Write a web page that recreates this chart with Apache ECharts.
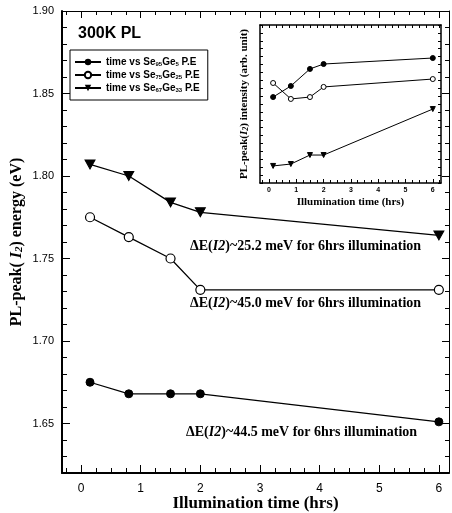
<!DOCTYPE html>
<html><head><meta charset="utf-8">
<script src="https://cdn.jsdelivr.net/npm/echarts@6/dist/echarts.min.js"></script>
<style>html,body{margin:0;padding:0;background:#fff}#c{width:452px;height:513px}</style>
</head><body><div id="c"></div>
<script>
// ---- data ----
var times = [0.15, 0.8, 1.5, 2, 6];
var se95ge5 = [1.675, 1.668, 1.668, 1.668, 1.651];
var se75ge25 = [1.775, 1.763, 1.750, 1.731, 1.731];
var se67ge33 = [1.807, 1.800, 1.784, 1.778, 1.764];
var insetSe95ge5 = [54.4, 61.4, 72.2, 75.3, 79.1];
var insetSe75ge25 = [63.3, 53.2, 54.4, 60.8, 65.8];
var insetSe67ge33 = [10.8, 12.0, 17.7, 17.7, 46.8];
var xTicks = [0, 1, 2, 3, 4, 5, 6];
var yTicks = [1.65, 1.70, 1.75, 1.80, 1.85, 1.90];
var seriesNames = ['s95', 's75', 's67'];

function pairs(xs, ys){ return xs.map(function(x,i){ return [x, ys[i]]; }); }
function steps(a, b, s, skip){ var r=[]; for (var i=0;;i++){ var v=+(a+i*s).toFixed(4); if(v>b+1e-9)break; if(!skip||Math.abs(v-Math.round(v/skip)*skip)>1e-6) r.push(v);} return r; }

var serif = 'Liberation Serif';
var sans = 'Liberation Sans';
var BLK = '#000';

function axisBase(extra){
  var o = {
    type:'value', splitLine:{show:false}, offset:0,
    axisLine:{show:true, onZero:false, lineStyle:{color:BLK, width:1}},
    axisTick:{show:true, inside:true, length:7, lineStyle:{color:BLK}},
    axisLabel:{show:false}
  };
  for (var k in extra) o[k]=extra[k];
  return o;
}
function tickAxis(grid, pos, min, max, vals, len){
  return axisBase({gridIndex:grid, position:pos, min:min, max:max,
    axisLine:{show:true, onZero:false, lineStyle:{color:'rgba(0,0,0,0)', width:0.01}},
    axisTick:{show:true, inside:true, length:len, customValues:vals, lineStyle:{color:BLK, width:1}}});
}

var xMin=-0.32, xMax=6.17, yMin=1.62, yMax=1.90;
var ixMin=-0.33, ixMax=6.3;
var xMinor = steps(-0.25,6.1,0.25,1);
var yMinor = steps(1.62,1.9,0.01).filter(function(v){return Math.abs(v*20-Math.round(v*20))>1e-6;});
var mainRect = {left:62, top:11, right:3, bottom:40, outerBoundsMode:'none', containLabel:false};
var insetRect = {left:260, top:25, width:181, height:158, outerBoundsMode:'none', containLabel:false};
function copy(o){ var r={}; for (var k in o) r[k]=o[k]; return r; }

var option = {
  animation:false,
  backgroundColor:'#fff',
  grid:[ copy(mainRect), copy(insetRect), copy(mainRect), copy(insetRect) ],
  xAxis:[
    axisBase({gridIndex:0, position:'bottom', min:xMin, max:xMax,
      axisLine:{show:true,onZero:false,lineStyle:{color:BLK,width:2}},
      axisTick:{show:true,inside:true,length:8,customValues:xTicks,lineStyle:{color:BLK}},
      axisLabel:{show:true,customValues:xTicks,color:BLK,fontFamily:sans,fontSize:12,margin:10},
      name:'Illumination time (hrs)', nameLocation:'middle', nameGap:22, nameMoveOverlap:false,
      nameTextStyle:{fontFamily:serif,fontWeight:'bold',fontSize:17,color:BLK}}),
    axisBase({gridIndex:0, position:'top', min:xMin, max:xMax,
      axisTick:{show:true,inside:true,length:7,customValues:xTicks,lineStyle:{color:BLK}}}),
    axisBase({gridIndex:1, position:'bottom', min:ixMin, max:ixMax,
      axisLine:{show:true,onZero:false,lineStyle:{color:BLK,width:1.5}},
      axisTick:{show:true,inside:true,length:4,customValues:xTicks,lineStyle:{color:BLK}},
      axisLabel:{show:true,customValues:xTicks,color:BLK,fontFamily:sans,fontWeight:'bold',fontSize:7,margin:4},
      name:'Illumination time (hrs)', nameLocation:'middle', nameGap:14, nameMoveOverlap:false,
      nameTextStyle:{fontFamily:serif,fontWeight:'bold',fontSize:11,color:BLK}}),
    axisBase({gridIndex:1, position:'top', min:ixMin, max:ixMax,
      axisLine:{show:true,onZero:false,lineStyle:{color:BLK,width:1.5}},
      axisTick:{show:true,inside:true,length:3,customValues:steps(-0.25,6.25,0.25),lineStyle:{color:BLK}}}),
    tickAxis(2,'bottom',xMin,xMax,xMinor,5),
    tickAxis(2,'top',xMin,xMax,xMinor,4),
    tickAxis(3,'bottom',ixMin,ixMax,steps(-0.25,6.25,0.25,1),3)
  ],
  yAxis:[
    axisBase({gridIndex:0, position:'left', min:yMin, max:yMax,
      axisLine:{show:true,onZero:false,lineStyle:{color:BLK,width:2}},
      axisTick:{show:true,inside:true,length:8,customValues:yTicks,lineStyle:{color:BLK}},
      axisLabel:{show:true,customValues:yTicks,color:BLK,fontFamily:sans,fontSize:11,margin:8,
        formatter:function(v){return v.toFixed(2);}},
      name:'{b|PL-peak( }{i|I}{s|2}{b|) energy (eV)}', nameLocation:'middle', nameGap:37, nameRotate:90, nameMoveOverlap:false,
      nameTextStyle:{color:BLK, rich:{
        b:{fontFamily:serif,fontWeight:'bold',fontSize:16,color:BLK},
        i:{fontFamily:serif,fontWeight:'bold',fontStyle:'italic',fontSize:16,color:BLK},
        s:{fontFamily:serif,fontWeight:'bold',fontStyle:'italic',fontSize:11,color:BLK,padding:[6,0,0,0]}}}}),
    axisBase({gridIndex:0, position:'right', min:yMin, max:yMax,
      axisTick:{show:true,inside:true,length:7,customValues:yTicks,lineStyle:{color:BLK}}}),
    axisBase({gridIndex:1, position:'left', min:0, max:100,
      axisLine:{show:true,onZero:false,lineStyle:{color:BLK,width:1.5}},
      axisTick:{show:true,inside:true,length:3,customValues:steps(0,100,5),lineStyle:{color:BLK}},
      name:'{b|PL-peak(}{i|I}{s|2}{b|) intensity (arb. unit)}', nameLocation:'middle', nameGap:10, nameRotate:90, nameMoveOverlap:false,
      nameTextStyle:{color:BLK, rich:{
        b:{fontFamily:serif,fontWeight:'bold',fontSize:11,color:BLK},
        i:{fontFamily:serif,fontWeight:'bold',fontStyle:'italic',fontSize:11,color:BLK},
        s:{fontFamily:serif,fontWeight:'bold',fontStyle:'italic',fontSize:8,color:BLK,padding:[4,0,0,0]}}}}),
    axisBase({gridIndex:1, position:'right', min:0, max:100,
      axisLine:{show:true,onZero:false,lineStyle:{color:BLK,width:1.5}},
      axisTick:{show:true,inside:true,length:3,customValues:steps(0,100,5),lineStyle:{color:BLK}}}),
    tickAxis(2,'left',yMin,yMax,yMinor,5),
    tickAxis(2,'right',yMin,yMax,yMinor,4),
    axisBase({gridIndex:3, min:0, max:100, show:false})
  ],
  legend:{
    left:70, top:50, orient:'vertical', data:seriesNames,
    padding:[7,8,7,4], itemGap:3, itemWidth:26, itemHeight:8,
    borderColor:BLK, borderWidth:1, backgroundColor:'#fff',
    textStyle:{color:BLK, rich:{
      a:{fontFamily:sans,fontWeight:'bold',fontSize:10,color:BLK},
      s:{fontFamily:sans,fontWeight:'bold',fontSize:6,color:BLK,padding:[4,0,0,0]}}},
    formatter:function(n){
      var m={s95:['95','5'],s75:['75','25'],s67:['67','33']}[n];
      return '{a|time vs Se}{s|'+m[0]+'}{a|Ge}{s|'+m[1]+'}{a| P.E}';
    }
  },
  graphic:[
    {type:'text', left:78, top:26, style:{text:'300K PL', font:'bold 16px "Liberation Sans"', fill:BLK}},
    {type:'text', left:190, top:239, style:{text:'{b|ΔE(}{i|I2}{b|)~25.2 meV for 6hrs illumination}',
      rich:{b:{font:'bold 14px "Liberation Serif"',fill:BLK},i:{font:'italic bold 14px "Liberation Serif"',fill:BLK}}}},
    {type:'text', left:190, top:296, style:{text:'{b|ΔE(}{i|I2}{b|)~45.0 meV for 6hrs illumination}',
      rich:{b:{font:'bold 14px "Liberation Serif"',fill:BLK},i:{font:'italic bold 14px "Liberation Serif"',fill:BLK}}}},
    {type:'text', left:186, top:425, style:{text:'{b|ΔE(}{i|I2}{b|)~44.5 meV for 6hrs illumination}',
      rich:{b:{font:'bold 14px "Liberation Serif"',fill:BLK},i:{font:'italic bold 14px "Liberation Serif"',fill:BLK}}}}
  ],
  series:[
    {name:'s95', type:'line', xAxisIndex:0, yAxisIndex:0, data:pairs(times,se95ge5),
      symbol:'circle', symbolSize:8, lineStyle:{color:BLK,width:1.3}, itemStyle:{color:BLK,borderColor:BLK}},
    {name:'s75', type:'line', xAxisIndex:0, yAxisIndex:0, data:pairs(times,se75ge25),
      symbol:'circle', symbolSize:9, lineStyle:{color:BLK,width:1.3}, itemStyle:{color:'#fff',borderColor:BLK,borderWidth:1.2}},
    {name:'s67', type:'line', xAxisIndex:0, yAxisIndex:0, data:pairs(times,se67ge33),
      symbol:'triangle', symbolRotate:180, symbolSize:[10,9], lineStyle:{color:BLK,width:1.3}, itemStyle:{color:BLK,borderColor:BLK}},
    {name:'i95', type:'line', xAxisIndex:2, yAxisIndex:2, data:pairs(times,insetSe95ge5),
      symbol:'circle', symbolSize:5, lineStyle:{color:BLK,width:1}, itemStyle:{color:BLK,borderColor:BLK}},
    {name:'i75', type:'line', xAxisIndex:2, yAxisIndex:2, data:pairs(times,insetSe75ge25),
      symbol:'circle', symbolSize:5, lineStyle:{color:BLK,width:1}, itemStyle:{color:'#fff',borderColor:BLK,borderWidth:1}},
    {name:'i67', type:'line', xAxisIndex:2, yAxisIndex:2, data:pairs(times,insetSe67ge33),
      symbol:'triangle', symbolRotate:180, symbolSize:5, lineStyle:{color:BLK,width:1}, itemStyle:{color:BLK,borderColor:BLK}}
  ]
};
var chart = echarts.init(document.getElementById('c'), null, {renderer:'canvas'});
chart.setOption(option);
</script></body></html>
